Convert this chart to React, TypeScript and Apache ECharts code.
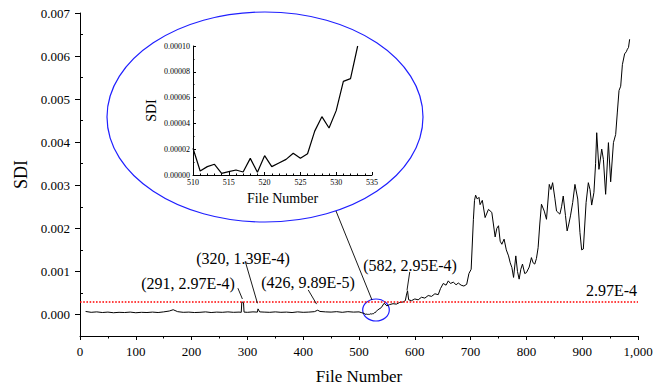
import React, { useEffect, useRef } from "react";
import * as echarts from "echarts";

// ---- data ----
// baseline region (file numbers 10..505)
const baselinePoints: [number, number][] = [
  [10, 7.0e-5], [20, 5.0e-5], [30, 6.0e-5], [40, 4.5e-5], [50, 5.5e-5], [60, 4.0e-5],
  [70, 5.0e-5], [80, 4.5e-5], [90, 5.5e-5], [100, 4.0e-5], [110, 5.0e-5], [120, 4.5e-5],
  [130, 5.5e-5], [140, 4.5e-5], [150, 6.0e-5], [160, 8.0e-5], [167, 1.1e-4], [175, 6.5e-5],
  [185, 5.0e-5], [195, 5.5e-5], [205, 4.5e-5], [215, 5.0e-5], [225, 6.0e-5], [235, 4.5e-5],
  [245, 5.5e-5], [255, 5.0e-5], [265, 6.0e-5], [275, 5.0e-5], [285, 5.5e-5], [289, 5.0e-5],
  [290, 2.9e-4], [291, 2.97e-4], [293, 2.8e-4], [294, 5.5e-5], [300, 5.0e-5], [310, 6.0e-5],
  [318, 5.5e-5], [319, 1.3e-4], [320, 1.39e-4], [322, 6.0e-5], [330, 5.5e-5], [340, 5.0e-5],
  [350, 6.0e-5], [360, 5.0e-5], [370, 5.5e-5], [380, 4.5e-5], [390, 6.0e-5], [400, 5.0e-5],
  [410, 5.5e-5], [420, 6.5e-5], [426, 9.89e-5], [430, 7.0e-5], [440, 6.0e-5], [450, 5.5e-5],
  [460, 6.5e-5], [470, 5.0e-5], [480, 6.5e-5], [490, 5.5e-5], [500, 6.0e-5], [505, 4.0e-5],
];

// zoomed region (inset)
const insetFileNumbers = [
  510, 511, 512, 513, 514, 515, 516, 517, 518, 519, 520, 521,
  522, 523, 524, 525, 526, 527, 528, 529, 530, 531, 532, 533,
];
const insetSdi = [
  2.07e-5, 3.1e-6, 6.5e-6, 8.3e-6, 1.3e-6, 2.6e-6, 3.9e-6, 2.3e-6, 1.29e-5, 2.1e-6, 1.5e-5, 6.5e-6,
  9.3e-6, 1.21e-5, 1.68e-5, 1.29e-5, 1.65e-5, 3.4e-5, 4.52e-5, 3.64e-5, 4.99e-5, 7.26e-5, 7.47e-5, 1.0e-4,
];

// growth region (540..985)
const growthPoints: [number, number][] = [
  [540, 1.6e-4], [545, 2.6e-4], [550, 2.0e-4], [555, 2.3e-4], [561, 2.5e-4], [567, 2.4e-4],
  [573, 2.8e-4], [579, 2.9e-4], [583, 3.2e-4], [585, 4.5e-4], [587, 5.5e-4], [589, 3.4e-4],
  [594, 3.2e-4], [600, 3.6e-4], [606, 3.4e-4], [612, 4.0e-4], [618, 3.8e-4], [624, 4.4e-4],
  [630, 4.2e-4], [636, 4.8e-4], [642, 4.6e-4], [646, 6.0e-4], [651, 7.2e-4], [656, 6.8e-4],
  [660, 7.8e-4], [664, 7.2e-4], [669, 7.5e-4], [674, 6.9e-4], [678, 7.3e-4], [683, 6.8e-4],
  [688, 6.6e-4], [693, 7.0e-4], [697, 9.5e-4], [701, 1.05e-3], [705, 2.2e-3], [707, 2.65e-3],
  [709, 2.77e-3], [712, 2.68e-3], [715, 2.72e-3], [717, 2.55e-3], [721, 2.65e-3], [726, 2.25e-3],
  [732, 2.44e-3], [738, 2.37e-3], [744, 1.8e-3], [747, 2.0e-3], [750, 2.06e-3], [753, 1.7e-3],
  [756, 1.63e-3], [760, 1.75e-3], [764, 1.5e-3], [768, 1.36e-3], [771, 1.2e-3], [774, 1.09e-3],
  [777, 0.86e-3], [781, 1.36e-3], [784, 1.0e-3], [787, 0.82e-3], [790, 1.05e-3], [793, 1.17e-3],
  [797, 0.95e-3], [800, 0.97e-3], [805, 1.1e-3], [809, 1.32e-3], [812, 1.2e-3], [815, 1.17e-3],
  [818, 1.3e-3], [821, 1.55e-3], [824, 2.1e-3], [827, 2.56e-3], [832, 2.4e-3], [836, 2.21e-3],
  [841, 3.02e-3], [844, 2.9e-3], [847, 3.06e-3], [851, 2.7e-3], [854, 2.4e-3], [860, 2.33e-3],
  [863, 2.5e-3], [866, 2.75e-3], [870, 2.3e-3], [873, 1.94e-3], [876, 2.1e-3], [879, 2.29e-3],
  [883, 2.6e-3], [887, 3.02e-3], [892, 2.68e-3], [896, 1.9e-3], [899, 1.5e-3], [902, 1.52e-3],
  [907, 2.6e-3], [911, 3.06e-3], [914, 2.9e-3], [917, 2.54e-3], [921, 2.83e-3], [924, 3.5e-3],
  [926, 4.22e-3], [930, 3.37e-3], [935, 3.84e-3], [938, 3.6e-3], [942, 2.79e-3], [947, 3.99e-3],
  [951, 3.08e-3], [956, 3.99e-3], [960, 4.18e-3], [963, 4.7e-3], [966, 5.2e-3], [969, 5.3e-3],
  [972, 5.8e-3], [976, 6.05e-3], [979, 6.1e-3], [981, 6.16e-3], [983, 6.2e-3], [985, 6.39e-3],
];

const thresholdValue = 2.97e-4;
const majorYTicks = [0, 0.001, 0.002, 0.003, 0.004, 0.005, 0.006, 0.007];
const minorYTicks = [0.0005, 0.0015, 0.0025, 0.0035, 0.0045, 0.0055, 0.0065];

// annotation leader lines (data coordinates: [file number, SDI])
const leaderLines: [number, number][][] = [
  [[283, 0.00061], [291, 0.00036]],
  [[296, 0.00124], [318, 0.00026]],
  [[409, 0.00057], [424, 0.00024]],
  [[591, 0.00099], [586, 0.00056]],
];
const annotationTexts = ["(291, 2.97E-4)", "(320, 1.39E-4)", "(426, 9.89E-5)", "(582, 2.95E-4)"];

const FONT = '"Liberation Serif", "Times New Roman", serif';

export default function App() {
  const ref = useRef<HTMLDivElement>(null);

  useEffect(() => {
    if (!ref.current) return;
    const chart = echarts.init(ref.current, undefined, { renderer: "svg" });

    const insetPoints: [number, number][] = insetFileNumbers.map((x, i) => [x, insetSdi[i]]);
    const mainData = [...baselinePoints, ...insetPoints, ...growthPoints];

    const axisLineStyle = { color: "#000", width: 1 };

    const option: any = {
      animation: false,
      backgroundColor: "#fff",
      textStyle: { fontFamily: FONT },
      grid: [
        { left: 80, right: 26, top: 13, bottom: 53 },
        { left: 193, top: 46, width: 179, height: 129 },
      ],
      xAxis: [
        {
          type: "value",
          gridIndex: 0,
          min: 0,
          max: 1000,
          interval: 100,
          name: "File Number",
          nameLocation: "middle",
          nameGap: 32,
          nameTextStyle: { fontFamily: FONT, fontSize: 17, color: "#000" },
          axisLine: { show: true, onZero: false, lineStyle: axisLineStyle },
          axisTick: { show: true, length: 4, lineStyle: axisLineStyle },
          minorTick: { show: true, splitNumber: 2, length: 2.5, lineStyle: axisLineStyle },
          axisLabel: { fontFamily: FONT, fontSize: 13, color: "#000", margin: 9 },
          splitLine: { show: false },
        },
        {
          type: "value",
          gridIndex: 1,
          min: 510,
          max: 535,
          interval: 5,
          name: "File Number",
          nameLocation: "middle",
          nameGap: 16,
          nameTextStyle: { fontFamily: FONT, fontSize: 14, color: "#000" },
          axisLine: { show: true, onZero: false, lineStyle: axisLineStyle },
          axisTick: { show: true, inside: true, length: 3, lineStyle: axisLineStyle },
          minorTick: { show: true, splitNumber: 5, length: 1.5, lineStyle: axisLineStyle },
          axisLabel: { fontFamily: FONT, fontSize: 8, color: "#000", margin: 3 },
          splitLine: { show: false },
        },
      ],
      yAxis: [
        {
          type: "value",
          gridIndex: 0,
          min: -0.0005,
          max: 0.007,
          name: "SDI",
          nameLocation: "middle",
          nameGap: 50,
          nameTextStyle: { fontFamily: FONT, fontSize: 18, color: "#000" },
          axisLine: { show: true, onZero: false, lineStyle: axisLineStyle },
          axisTick: { show: true, length: 5, customValues: majorYTicks, lineStyle: axisLineStyle },
          axisLabel: {
            fontFamily: FONT,
            fontSize: 13,
            color: "#000",
            margin: 10,
            customValues: majorYTicks,
            formatter: (v: number) => v.toFixed(3),
          },
          splitLine: { show: false },
        },
        {
          type: "value",
          gridIndex: 0,
          min: -0.0005,
          max: 0.007,
          axisLine: { show: false },
          axisTick: { show: true, length: 3, customValues: minorYTicks, lineStyle: axisLineStyle },
          axisLabel: { show: false },
          splitLine: { show: false },
        },
        {
          type: "value",
          gridIndex: 1,
          min: 0,
          max: 0.0001,
          interval: 0.00002,
          name: "SDI",
          nameLocation: "middle",
          nameGap: 35,
          nameTextStyle: { fontFamily: FONT, fontSize: 14, color: "#000" },
          axisLine: { show: true, onZero: false, lineStyle: axisLineStyle },
          axisTick: { show: true, inside: true, length: 3, lineStyle: axisLineStyle },
          minorTick: { show: true, splitNumber: 2, length: 1.5, lineStyle: axisLineStyle },
          axisLabel: {
            fontFamily: FONT,
            fontSize: 8,
            color: "#000",
            margin: 3,
            formatter: (v: number) => v.toFixed(5),
          },
          splitLine: { show: false },
        },
      ],
      series: [
        {
          type: "line",
          xAxisIndex: 0,
          yAxisIndex: 0,
          data: mainData,
          symbol: "none",
          lineStyle: { color: "#000", width: 1 },
          markLine: {
            silent: true,
            symbol: "none",
            precision: 8,
            label: { show: false },
            data: [
              {
                yAxis: thresholdValue,
                lineStyle: { color: "#ff0000", width: 1.6, type: [1.6, 1.6] },
              },
              ...leaderLines.map((seg) => [
                { coord: seg[0], lineStyle: { color: "#000", width: 0.9, type: "solid" } },
                { coord: seg[1] },
              ]),
            ],
          },
        },
        {
          type: "line",
          xAxisIndex: 1,
          yAxisIndex: 2,
          data: insetPoints,
          symbol: "none",
          lineStyle: { color: "#000", width: 1.2 },
        },
      ],
      graphic: [
        {
          type: "ellipse",
          shape: { cx: 265, cy: 117, rx: 158, ry: 105 },
          style: { fill: "none", stroke: "#1f1fff", lineWidth: 1.2 },
          silent: true,
        },
        {
          type: "ellipse",
          shape: { cx: 376, cy: 310, rx: 13.3, ry: 11 },
          style: { fill: "none", stroke: "#1f1fff", lineWidth: 1.2 },
          silent: true,
        },
        {
          type: "line",
          shape: { x1: 336, y1: 211, x2: 372, y2: 300 },
          style: { stroke: "#000", lineWidth: 0.9 },
          silent: true,
        },
        ...[
          [188, 283],
          [243, 258],
          [308, 282],
          [410, 265],
        ].map((p, i) => ({
          type: "text",
          x: p[0],
          y: p[1],
          style: {
            text: annotationTexts[i],
            fontFamily: FONT,
            fontSize: 16,
            fill: "#000",
            align: "center",
            verticalAlign: "middle",
          },
          silent: true,
        })),
        {
          type: "text",
          x: 637,
          y: 290,
          style: {
            text: "2.97E-4",
            fontFamily: FONT,
            fontSize: 16,
            fill: "#000",
            align: "right",
            verticalAlign: "middle",
          },
          silent: true,
        },
      ],
    };

    chart.setOption(option);
    return () => chart.dispose();
  }, []);

  return (
    <div
      ref={ref}
      style={{ position: "fixed", left: 0, top: 0, width: 664, height: 390, background: "#fff" }}
    />
  );
}
